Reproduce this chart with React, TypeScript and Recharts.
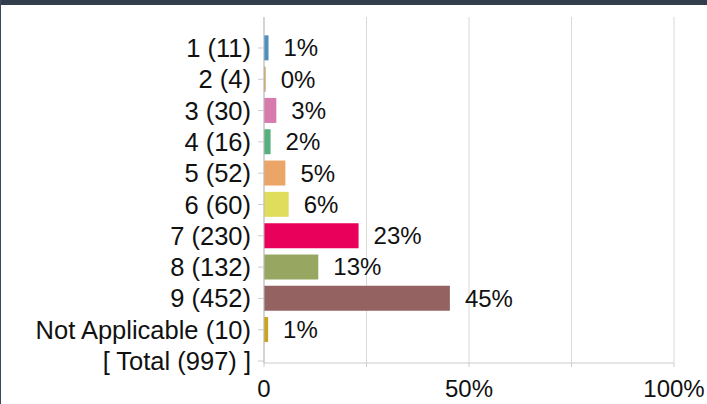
import React from 'react';
import { BarChart, Bar, XAxis, YAxis, CartesianGrid, Cell, LabelList } from 'recharts';

const categories = ['1 (11)', '2 (4)', '3 (30)', '4 (16)', '5 (52)', '6 (60)', '7 (230)', '8 (132)', '9 (452)', 'Not Applicable (10)', '[ Total (997) ]'];
const counts = [11, 4, 30, 16, 52, 60, 230, 132, 452, 10];
const total = 997;
const colors = ['#4f8fc0', '#c8a060', '#d87aae', '#56b07e', '#eba566', '#e0dc5c', '#e8005a', '#97a762', '#956262', '#c9a420'];
const xTicks = [0, 25, 50, 75, 100];
const xTickLabels: Record<number, string> = { 0: '0', 50: '50%', 100: '100%' };

const data = counts.map((c, i) => ({ idx: i, name: categories[i], pct: (c / total) * 100 }));
const yTicks = categories.map((_, i) => i);

const FONT = '"Liberation Sans", Arial, sans-serif';

export default function App() {
  return (
    <div style={{ position: 'fixed', left: 0, top: 0, width: 707, height: 404, background: '#fff', fontFamily: FONT }}>
      <div style={{ position: 'absolute', left: 0, top: 0, width: 707, height: 5, background: '#323e4c' }} />
      <div style={{ position: 'absolute', left: 0, top: 0, width: 1, height: 404, background: '#3a4a5c' }} />
      <BarChart
        width={707}
        height={404}
        data={data}
        layout="vertical"
        margin={{ top: 17, right: 33, bottom: 0, left: 0 }}
        style={{ position: 'absolute', left: 0, top: 0 }}
      >
        <CartesianGrid horizontal={false} stroke="#d9d9d9" />
        <XAxis
          type="number"
          domain={[0, 100]}
          ticks={xTicks}
          interval={0}
          height={41}
          tickFormatter={(v: number) => xTickLabels[v] ?? ''}
          axisLine={{ stroke: '#cccccc' }}
          tickLine={{ stroke: '#cccccc' }}
          tickSize={4}
          tickMargin={13}
          tick={{ fill: '#111', fontSize: 24, fontFamily: FONT }}
        />
        <YAxis
          type="number"
          dataKey="idx"
          domain={[-0.99, 10.064]}
          allowDataOverflow
          ticks={yTicks}
          interval={0}
          width={264}
          tickFormatter={(v: number) => categories[v] ?? ''}
          axisLine={{ stroke: '#bbbbbb' }}
          tickLine={{ stroke: '#cccccc' }}
          tickSize={6}
          tickMargin={7}
          tick={{ fill: '#111', fontSize: 25.5, fontFamily: FONT }}
        />
        <Bar dataKey="pct" barSize={25} isAnimationActive={false}>
          {data.map((d, i) => (
            <Cell key={d.name} fill={colors[i]} />
          ))}
          <LabelList
            dataKey="pct"
            position="right"
            offset={15}
            formatter={(v: number) => `${Math.round(v)}%`}
            style={{ fill: '#111', fontSize: 24, fontFamily: FONT }}
          />
        </Bar>
      </BarChart>
    </div>
  );
}
